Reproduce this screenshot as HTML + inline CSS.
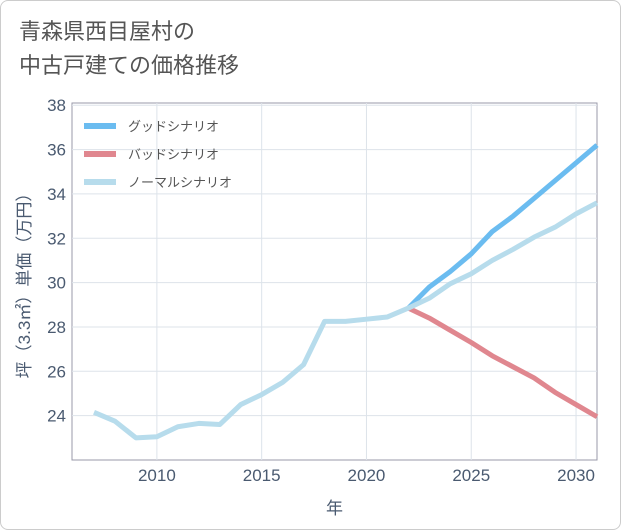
<!DOCTYPE html>
<html><head><meta charset="utf-8"><style>
body{margin:0;background:#fff;}
.wrap{position:relative;width:619px;height:528px;border:1px solid #ccc;border-radius:8px;background:#fff;font-family:"Liberation Sans","Noto Sans CJK JP",sans-serif;}
.title{position:absolute;left:18px;top:14px;font-size:22px;line-height:34px;color:#555;}
</style></head><body>
<div class="wrap">
<div class="title">青森県西目屋村の<br>中古戸建ての価格推移</div>
<svg id="chart" width="621" height="530" style="position:absolute;left:-1px;top:-1px"></svg>
</div>
<script>
const years=[2007,2008,2009,2010,2011,2012,2013,2014,2015,2016,2017,2018,2019,2020,2021,2022,2023,2024,2025,2026,2027,2028,2029,2030,2031];
const normalVals=[24.15,23.75,23.0,23.05,23.5,23.65,23.6,24.5,24.95,25.5,26.3,28.25,28.25,28.35,28.45,28.85,29.3,29.95,30.4,31.0,31.5,32.05,32.5,33.1,33.6];
const futureYears=[2022,2023,2024,2025,2026,2027,2028,2029,2030,2031];
const goodVals=[28.85,29.8,30.5,31.3,32.3,33.0,33.8,34.6,35.4,36.2];
const badVals=[28.85,28.4,27.85,27.3,26.7,26.2,25.7,25.05,24.5,23.95];
const yTicks=[24,26,28,30,32,34,36,38];
const xTicks=[2010,2015,2020,2025,2030];
const NS="http://www.w3.org/2000/svg";
const svg=document.getElementById('chart');
const L=72,R=597,T=103,B=460;
const xs=v=>L+(v-2005.95)/(2031-2005.95)*(R-L);
const ys=v=>B-(v-22)/(38.1-22)*(B-T);
function mk(t,a,p){const e=document.createElementNS(NS,t);for(const k in a)e.setAttribute(k,a[k]);(p||svg).appendChild(e);return e;}
const bg=mk('rect',{x:L,y:T,width:R-L,height:B-T,fill:'#fff',stroke:'#99a',"stroke-width":1});


yTicks.forEach(v=>{
const g=mk('line',{x1:L,x2:R,y1:ys(v),y2:ys(v),stroke:'#dde3ea'});


const t=mk('text',{x:L-6,y:ys(v)+6,"text-anchor":"end","font-size":17,fill:'#4a5a70'});
t.textContent=v;


});
xTicks.forEach(v=>{
const g=mk('line',{x1:xs(v),x2:xs(v),y1:T,y2:B,stroke:'#dde3ea'});


const t=mk('text',{x:xs(v),y:B+21,"text-anchor":"middle","font-size":17,fill:'#4a5a70'});
t.textContent=v;


});
const xt=mk('text',{x:(L+R)/2,y:514,"text-anchor":"middle","font-size":17,fill:'#4a5a70'});
xt.textContent='年';


const yt=mk('text',{x:0,y:0,"text-anchor":"middle","font-size":17,fill:'#4a5a70',transform:`translate(30,${(T+B)/2}) rotate(-90)`});
yt.textContent='坪（3.3㎡）単価（万円）';


function line(xv,yv,c,name){
const p=mk('polyline',{points:xv.map((x,i)=>xs(x)+','+ys(yv[i])).join(' '),fill:'none',stroke:c,"stroke-width":5,"stroke-linejoin":"round"});


}
line(futureYears,badVals,'#e0878f','bad-scenario-line');
line(futureYears,goodVals,'#6bbcf0','good-scenario-line');
line(years,normalVals,'#b7dcec','normal-scenario-line');
const leg=[['グッドシナリオ','#6bbcf0',126],['バッドシナリオ','#e0878f',154],['ノーマルシナリオ','#b7dcec',182]];
leg.forEach(l=>{
const g=mk('g',{});


mk('line',{x1:84,x2:116,y1:l[2],y2:l[2],stroke:l[1],"stroke-width":6},g);
const t=mk('text',{x:128,y:l[2]+5,"font-size":13,fill:'#555'},g);
t.textContent=l[0];
});
</script>
</body></html>
